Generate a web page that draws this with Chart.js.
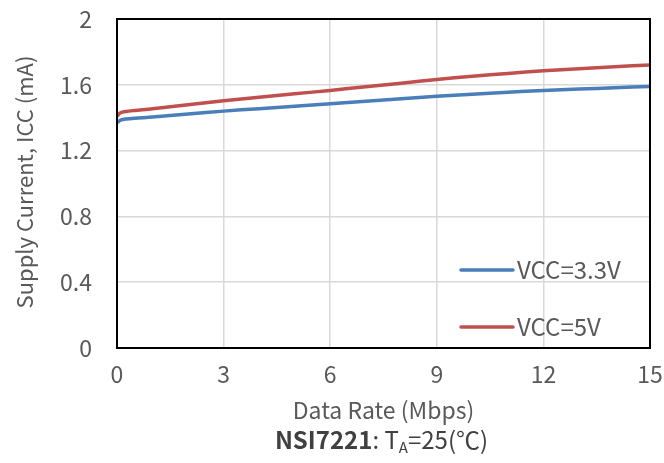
<!DOCTYPE html>
<html>
<head>
<meta charset="utf-8">
<script src="https://cdn.jsdelivr.net/npm/chart.js@4.4.1/dist/chart.umd.min.js"></script>
<style>
  html, body { margin: 0; padding: 0; background: #fff; }
  #wrap { width: 664px; height: 463px; }
</style>
</head>
<body>
<div id="wrap"><canvas id="myChart" width="664" height="463"></canvas></div>
<script>
// data
const rates = [0, 0.1, 0.25, 0.5, 1, 2, 3, 4, 5, 6, 7, 8, 9, 10, 11, 12, 13, 14, 15];
const icc33 = [1.37, 1.385, 1.392, 1.397, 1.404, 1.422, 1.44, 1.455, 1.47, 1.485, 1.50, 1.515, 1.53, 1.543, 1.555, 1.565, 1.574, 1.582, 1.59];
const icc5 = [1.41, 1.43, 1.438, 1.444, 1.454, 1.479, 1.503, 1.524, 1.545, 1.566, 1.588, 1.61, 1.632, 1.652, 1.669, 1.685, 1.698, 1.71, 1.72];
const seriesNames = ['VCC=3.3V', 'VCC=5V'];

const FONT = "'Noto Sans CJK SC', 'Noto Sans', sans-serif";
const TXT = '#595959';
const BLUE = '#4a7ebb';
const RED = '#c0504d';

function pts(ys) {
    return rates.map((x, i) => ({ x: x, y: ys[i] }));
}

const decor = {
    id: 'decor',
    afterDraw(chart) {
        const ctx = chart.ctx;
        const a = chart.chartArea;
        ctx.save();
        // plot frame
        ctx.strokeStyle = '#000';
        ctx.lineWidth = 2;
        ctx.strokeRect(a.left, a.top, a.right - a.left, a.bottom - a.top);

        // legend inside the plot
        const items = [[seriesNames[0], BLUE, 270], [seriesNames[1], RED, 327]];
        ctx.font = '24px ' + FONT;
        ctx.textBaseline = 'middle';
        ctx.textAlign = 'left';
        items.forEach(([t, c, y]) => {
            ctx.strokeStyle = c;
            ctx.lineWidth = 3.5;
            ctx.lineCap = 'round';
            ctx.beginPath();
            ctx.moveTo(461, y);
            ctx.lineTo(513, y);
            ctx.stroke();
            ctx.fillStyle = TXT;
            ctx.fillText(t, 517, y);
        });

        // axis titles
        ctx.font = '23px ' + FONT;
        ctx.fillStyle = TXT;
        ctx.textAlign = 'center';
        ctx.fillText('Data Rate (Mbps)', (a.left + a.right) / 2, 410);

        ctx.save();
        ctx.font = '22px ' + FONT;
        ctx.translate(25, 182);
        ctx.rotate(-Math.PI / 2);
        ctx.fillText('Supply Current, ICC (mA)', 0, 0);
        ctx.restore();

        // caption: NSI7221: T_A=25(℃)
        const parts = [
            ['NSI7221', 'bold 24px ' + FONT, 0],
            [': T', '24px ' + FONT, 0],
            ['A', '15px ' + FONT, 7],
            ['=25(℃)', '24px ' + FONT, 0]
        ];
        let total = 0;
        parts.forEach(p => { ctx.font = p[1]; total += ctx.measureText(p[0]).width; });
        let x = (a.left + a.right) / 2 - total / 2 - 2;
        ctx.textAlign = 'left';
        ctx.fillStyle = '#404040';
        parts.forEach(p => {
            ctx.font = p[1];
            ctx.fillText(p[0], x, 440 + p[2]);
            x += ctx.measureText(p[0]).width;
        });
        ctx.restore();
    }
};

const ctx = document.getElementById('myChart').getContext('2d');
const myChart = new Chart(ctx, {
    type: 'scatter',
    data: {
        datasets: [{
            label: seriesNames[0],
            data: pts(icc33),
            showLine: true,
            borderColor: BLUE,
            borderWidth: 3.5,
            pointRadius: 0,
            tension: 0.3
        },
        {
            label: seriesNames[1],
            data: pts(icc5),
            showLine: true,
            borderColor: RED,
            borderWidth: 3.5,
            pointRadius: 0,
            tension: 0.3
        }]
    },
    options: {
        responsive: false,
        animation: false,
        layout: { padding: { top: 19, right: 14, left: 0, bottom: 0 } },
        plugins: {
            legend: { display: false },
            tooltip: { enabled: false }
        },
        scales: {
            x: {
                type: 'linear',
                min: 0,
                max: 15,
                afterFit: s => {
                    s.height = 115;
                    s.paddingLeft = 0;
                    s.paddingRight = 0;
                },
                grid: { color: '#d9d9d9', lineWidth: 1.5, drawTicks: false },
                border: { display: false },
                ticks: {
                    stepSize: 3,
                    padding: 12,
                    color: TXT,
                    font: { size: 23, family: FONT }
                }
            },
            y: {
                min: 0,
                max: 2,
                afterFit: s => {
                    s.width = 117;
                    s.paddingTop = 0;
                    s.paddingBottom = 0;
                },
                grid: { color: '#d9d9d9', lineWidth: 1.5, drawTicks: false },
                border: { display: false },
                ticks: {
                    stepSize: 0.4,
                    padding: 25,
                    color: TXT,
                    font: { size: 23, family: FONT },
                    callback: v => String(Math.round(v * 10) / 10)
                }
            }
        }
    },
    plugins: [decor]
});
</script>
</body>
</html>
